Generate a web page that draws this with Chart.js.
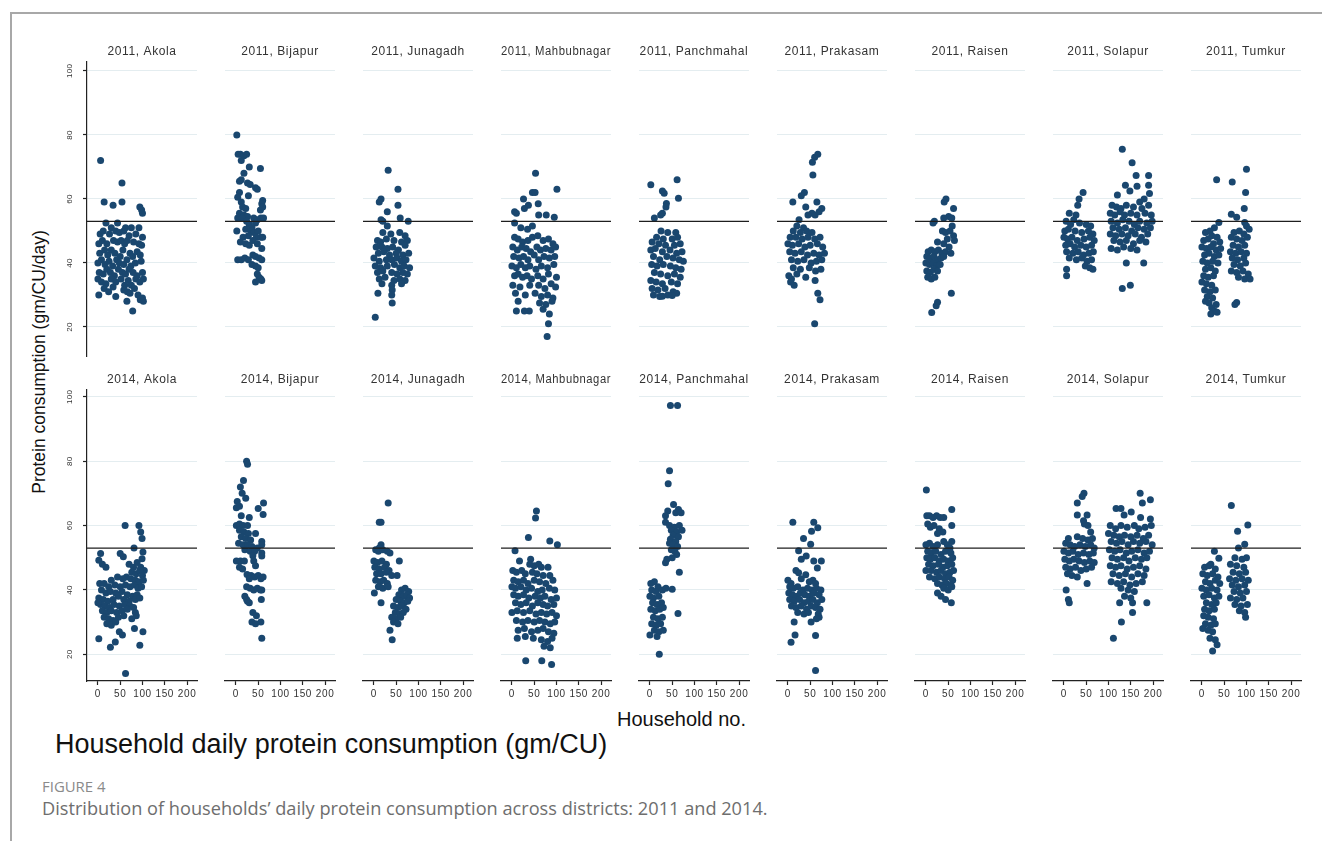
<!DOCTYPE html>
<html>
<head>
<meta charset="utf-8">
<script src="https://cdn.jsdelivr.net/npm/chart.js@4.4.0/dist/chart.umd.min.js"></script>
<style>
	body { margin: 0; background: #fff; width: 1322px; height: 841px; overflow: hidden; position: relative; font-family: 'Liberation Sans', Arial, sans-serif; }
	#frame { position: absolute; left: 10px; top: 12px; right: 0; bottom: 0; border-left: 2px solid #a8a8a8; border-top: 2px solid #a8a8a8; }
	canvas { position: absolute; }
	.txt { position: absolute; white-space: nowrap; line-height: 1; }
	#ytitle { left: 40px; top: 362px; font-size: 17.5px; color: #111; transform: translate(-50%, -50%) rotate(-90deg); }
	#xtitle { left: 617px; top: 709px; font-size: 20px; color: #111; }
	#bigtitle { left: 55px; top: 731px; font-size: 27px; color: #111; }
	#fig { left: 42px; top: 780px; font-size: 14px; color: #8a8a8a; font-family: 'Open Sans', sans-serif; transform-origin: 0 0; }
	#caption { left: 42px; top: 799px; font-size: 18px; color: #6e6e6e; font-family: 'Open Sans', sans-serif; transform-origin: 0 0; }
</style>
</head>
<body>
<div id="frame"></div>
<div id="ytitle" class="txt">Protein consumption (gm/CU/day)</div>
<div id="xtitle" class="txt">Household no.</div>
<div id="bigtitle" class="txt">Household daily protein consumption (gm/CU)</div>
<div id="fig" class="txt">FIGURE 4</div>
<div id="caption" class="txt">Distribution of households’ daily protein consumption across districts: 2011 and 2014.</div>
<script>
const districts = ['Akola', 'Bijapur', 'Junagadh', 'Mahbubnagar', 'Panchmahal', 'Prakasam', 'Raisen', 'Solapur', 'Tumkur'];
const years = [2011, 2014];
const xTicks = [0, 50, 100, 150, 200];
const yTicks = [20, 40, 60, 80, 100];
const refLine = 53;

// [household no., protein gm/CU/day]
const akola2011 = [[6,72],[54,65],[14,59],[34,58],[54,59],[94,57.5],[98,56.5],[100,55.5],
	[18,52.5],[44,52.5],[30,51],[62,51],[75,51],[92,51],
	[5,49],[12,50],[26,49],[40,50],[48,49.5],[58,50],[70,48.5],[85,49],[100,48],
	[2,46],[10,47],[20,46],[35,47],[44,46.5],[52,47],[60,46],[66,47],[80,46.5],[92,46],[98,45.5],
	[4,43],[15,44],[22,42.5],[30,44],[38,43],[50,42],[56,44],[72,43],[78,42],[88,43.5],[95,42.5],
	[0,40],[8,41],[16,39.5],[25,40.5],[33,39],[42,41],[48,40],[58,39.5],[65,41],[74,39],[84,40],[97,40.5],
	[3,37],[12,36.5],[20,38],[28,37],[37,36],[46,38],[55,37],[62,36.5],[70,38],[79,37],[88,36],[100,37],
	[0,35],[8,34],[18,33.5],[30,35],[40,34],[52,35],[60,33],[68,34.5],[75,33],[85,35],[94,34],[102,35],
	[2,30],[14,32],[24,31],[34,32.5],[58,31.5],[66,31],[72,30.5],[82,32],[90,30],
	[40,29.5],[65,28],[95,28.5],[100,29],[102,28],[78,25]];

const bijapur2011 = [[2,80],[5,74],[10,74],[18,73.5],[24,74],[12,72],[30,70],[55,69.5],[18,68],[8,65.5],[12,66],[26,65],
	[32,64.5],[44,63.5],[48,63],[8,62],[4,60.5],[28,61],[60,59.5],[58,58.5],[12,59],[15,57.5],[22,57],[55,56.5],[60,57.5],
	[8,55.5],[18,55],[26,54.5],[4,54],[14,54],[40,54],[48,53.5],[56,54],[62,54],[24,53],[44,52.5],[30,52],[36,51],
	[2,50],[22,50.5],[34,50],[40,49.5],[50,50],[28,48.5],[16,48],[46,48],[56,48],[60,48],[10,46.5],[22,46],[30,45.5],
	[38,47],[48,46],[58,44.5],[4,41],[12,41],[20,41.5],[28,41],[38,42.5],[44,42],[52,41.5],[58,41],[36,39.5],[44,39],
	[50,38.5],[48,36.5],[52,35.5],[56,35],[58,34.5],[44,34]];

const junagadh2011 = [[32,69],[54,63],[16,60],[12,59],[54,58],[30,56],[16,53.5],[20,53],[59,54],[77,53],[30,51.5],
	[20,49.5],[38,49],[58,49.5],[70,48.5],[8,47],[15,46.5],[28,47.5],[45,47],[62,46.5],[75,47],
	[5,45],[18,45],[30,44.5],[42,45],[55,44],[70,45.5],[10,43],[22,43.5],[35,42.5],[50,43],[65,42.5],[78,43],
	[0,41.5],[12,40.5],[28,41],[40,41],[52,41.5],[62,40.5],[72,41],[3,39],[15,38.5],[30,39],[46,39.5],[58,38.5],[68,39],[80,38.5],
	[8,37],[20,37.5],[40,37],[52,36.5],[65,37],[75,36.5],[12,35],[25,35.5],[45,34.5],[58,35],[70,34.5],
	[18,33.5],[40,33],[62,33.5],[9,30.5],[41,31.5],[40,30],[41,27.5],[3,23]];

const mahbubnagar2011 = [[53,68],[46,62],[52,62],[101,63],[26,60],[37,58],[59,58.5],[6,56],[10,55.5],[28,57],[60,55],[77,55],
	[95,54.3],[6,52.5],[35,50.5],[46,51.5],[20,51],
	[6,48],[14,47.5],[24,46.5],[36,47],[46,48],[58,48.5],[70,47],[82,47.5],[92,46],
	[2,45],[12,44],[22,45],[32,44.5],[42,43.5],[56,45],[64,44],[76,44.5],[88,44],[98,45],
	[4,42],[16,41.5],[26,42],[36,41],[50,42.5],[60,41],[72,42],[84,41.5],[96,42],
	[0,39],[10,38.5],[20,39.5],[30,38.5],[40,39],[54,38],[66,39],[80,38.5],[94,39.5],
	[6,36],[14,36.5],[24,35.5],[34,36],[44,35],[58,36],[70,35],[82,36.5],[100,35.5],
	[2,33],[18,32.5],[40,33],[60,33],[74,32],[88,33.5],[98,32.5],
	[8,30.5],[30,30],[52,30.5],[66,29.5],[80,30],[92,29],
	[14,28],[62,27.5],[76,27],[90,28],[10,25],[39,25],[28,25],[70,25.5],[84,24],[82,21],[79,17]];

const panchmahal2011 = [[2,64.4],[61,66],[28,62.5],[32,61.8],[64,60.2],[37,58.6],[36,57.5],[28,55.5],[24,55],[10,54],
	[25,50],[40,49.5],[58,49.5],[15,48],[30,47.5],[50,47.5],[62,48],
	[5,46.5],[20,46],[35,45.5],[55,45.5],[68,46],[2,44],[12,44.5],[28,43.5],[45,44],[60,43],[72,43.5],
	[8,42],[22,41],[38,42],[52,41.5],[66,41],[75,40.5],[4,39.5],[16,39],[30,39.5],[46,39],[58,38.5],[70,38],
	[10,37],[24,36.5],[40,36],[55,36.5],[68,35.5],[2,34.5],[14,34],[28,33.5],[48,34],[62,33.5],
	[5,32],[18,31.5],[34,32],[52,31],[8,30],[22,29.5],[40,30],[60,30.5],[28,29.6],[50,29.8]];

const prakasam2011 = [[67,74],[60,73],[55,71.5],[56,67.5],[37,62],[30,61],[11,59],[40,57.5],[65,59],[76,57],[54,55.5],
	[61,55],[25,53.5],[70,56],[45,55],
	[20,51.5],[35,51],[12,50],[28,49.5],[42,50],[54,49.5],[5,48],[18,48],[32,47.5],[45,48],[60,47.5],[72,48],
	[0,46],[10,45.5],[24,46],[38,45],[50,45.5],[66,46],[78,45],[4,43.5],[16,43],[30,43.5],[44,42.5],[58,43],[70,42.5],[82,43],
	[8,41],[22,40.5],[36,41],[52,40],[64,40.5],[76,41],[12,38.5],[28,38],[48,38.5],[62,37.5],[74,38],
	[2,36],[20,36.5],[40,35.5],[6,34],[14,33],[8,35],[61,34.5],[67,30.5],[72,28.5],[60,21]];

const raisen2011 = [[45,60],[41,59],[62,57],[51,54.5],[40,54],[58,54],[19,53],[16,52.5],[59,51.5],[37,50],[44,49.5],[54,50],
	[62,48.5],[64,47],[48,47.5],[26,46.5],[40,46],[52,45],
	[5,43.5],[12,44],[20,43.5],[28,44],[36,43],[44,43.5],[56,43],
	[2,42],[10,41.5],[18,42],[26,41],[34,41.5],[40,42],[0,40],[8,39.5],[16,40],[24,39],[32,39.5],
	[2,37.5],[10,37],[18,38],[26,37.5],[4,35.5],[12,35],[20,35.5],
	[57,30.5],[26,27.7],[23,26.6],[13,24.5]];

const solapur2011 = [[43,62],[34,60],[31,58],[12,55.5],[27,55],[22,53.5],[5,53],[15,52],[35,52.5],[50,52],[60,51.5],
	[2,50],[10,50.5],[25,50],[40,49.5],[55,50],[65,49],[0,48],[8,47.5],[18,48],[30,47],[45,47.5],[58,48],[68,47],
	[4,45.5],[14,46],[24,45],[38,45.5],[50,45],[62,45.5],[6,43.5],[20,43],[32,43.5],[44,42.5],[56,43],[66,43.5],
	[12,41.5],[28,41],[40,41.5],[52,40.5],[62,41],[48,39],[58,38.5],[65,38],[6,38],[6,36],
	[131,75.5],[153,71.3],[162,67.3],[190,67.3],[138,64.3],[164,64],[190,64.3],[192,61.7],[120,61.2],[148,62.5],[170,59],[180,60],
	[108,58],[118,57.5],[128,57],[140,58],[156,57.5],[175,57],[190,58],
	[104,55.5],[114,55],[126,56],[136,55],[150,55.5],[164,55],[182,55.5],[196,55],
	[106,53],[120,52.5],[132,53.5],[146,53],[158,52],[170,53],[186,52.5],[198,53],
	[110,51],[124,50.5],[138,51],[152,50],[166,51],[180,50.5],[194,51],
	[104,49],[116,48.5],[130,49],[144,48.5],[160,49],[174,48],[188,49],
	[112,47],[126,46.5],[140,47],[156,46],[170,47],[184,46.5],
	[106,44.5],[120,44],[134,45],[150,44.5],[164,44],[140,40],[179,40],[131,32],[149,33]];

const tumkur2011 = [[38,52.6],[28,51],[18,50],[8,49.5],[22,48.5],[34,48],[4,47],[14,47.5],[26,46],[40,46.5],
	[0,45],[10,44.5],[20,45],[32,44],[42,44.5],[6,42.5],[16,43],[28,42],[38,42.5],
	[2,40.5],[12,40],[24,40.5],[36,40],[8,38],[20,38.5],[30,37.5],[4,36],[14,35.5],[26,36],
	[0,34],[10,33.5],[22,33],[6,31.5],[18,31],[30,31.5],[12,29.5],[24,29],[16,27.5],[32,27],[22,26],[28,25],[20,24],[34,24.6],[8,28],
	[33,66],[68,65.3],[100,69.3],[98,62],[95,57],[66,55.2],[78,54.3],[96,52.6],[100,51.5],[106,50.5],
	[72,49.5],[84,50],[94,49],[66,48],[78,47.5],[90,47],[102,48],
	[70,45.5],[82,45],[96,45.5],[64,43.5],[76,43],[88,43.5],[100,43],
	[68,41.5],[80,41],[94,41.5],[72,39.5],[86,39],[98,40],
	[66,37.5],[78,37],[92,37.5],[104,36.5],[82,35.5],[96,35],[108,35],[78,27.6],[74,27]];

const akola2014 = [[61,60],[92,60],[96,58],[99,56],[81,53],[6,51.3],[2,49.2],[50,51.3],[57,50.3],[101,51.8],[99,49.7],[18,47],[10,48],
	[70,48],[80,47],[88,48.5],[96,47],[104,46],[76,45.5],[86,45],[94,46],[100,44.5],
	[64,44],[74,43.5],[84,43],[92,42.5],[102,43],[30,43],[44,44],[56,43.5],
	[4,42],[14,42],[24,41],[38,41.5],[50,41],[62,41.5],[72,41],[82,41.5],[90,40.5],[98,41],
	[8,40],[18,39],[28,39.5],[40,39],[54,39.5],[66,38.5],[78,38],[88,38.5],
	[2,37.5],[12,37],[22,36.5],[34,37],[46,38],[58,37],[70,36.5],[84,37],[94,37.5],
	[6,35.5],[16,35],[26,34.5],[36,35.5],[48,35],[60,35.5],[72,35],[80,34.5],
	[0,36],[10,33.5],[20,33],[30,33.5],[42,33],[54,33.5],[66,34],[84,33],
	[14,31.5],[24,31],[34,30.5],[46,31.5],[58,32],[76,31],[86,32],
	[20,29.5],[30,29],[40,30],[82,28],[48,27],[101,27],[55,26],[2,24.8],[28,22.2],[39,23.8],[94,22.8],[62,14]];

const bijapur2014 = [[24,80],[26,79],[17,74],[10,72],[14,70],[22,68.5],[3,67.5],[1,65.5],[8,66],[62,67],[50,65.3],[61,63.4],[12,63],[30,62.5],
	[1,60],[8,60.5],[16,60],[26,60],[8,58.5],[18,58],[28,57.5],[44,57.5],[12,56.5],[22,56],[33,55.5],[58,55],[58,54],
	[6,54.5],[16,54],[26,54],[36,53.5],[48,53],[20,52.5],[32,52],[42,52],[58,51.5],[58,50.5],[38,50.6],
	[1,49],[10,49],[19,49],[40,49],[8,47],[15,46.5],[44,47.5],
	[25,44.8],[34,44.5],[42,44],[50,44.5],[56,43.5],[61,44],[30,43.5],
	[24,41],[32,40.5],[40,40],[48,40.5],[55,40],[58,40],
	[20,38],[26,36.5],[30,36],[57,37],[24,37],[38,33],[46,32],[36,30],[44,29.5],[56,30],[58,25]];

const junagadh2014 = [[32,67],[12,61],[16,61],[16,54],[12,53],[4,52.5],[10,52],[20,52.5],[30,52],[36,51.5],[57,49],
	[0,49],[8,48.5],[18,49],[28,48],[2,47],[12,46.5],[24,47],[34,46],[6,45],[16,45],[28,45.5],[52,44.5],[40,44.5],
	[4,43],[14,42.5],[22,43],[30,42],[10,41],[20,40.5],[32,41],[1,39],[16,36],
	[62,40],[70,40.5],[78,39.5],[56,38.5],[66,38],[74,38.5],[80,37.5],[50,37],[60,36.5],[68,36],[76,36.5],
	[44,35],[54,34.5],[62,35],[72,34],[48,33],[58,32.5],[66,33],[40,31.5],[50,31],[60,31.5],[44,30],[54,29.5],[36,27.5],[41,24.5]];

const mahbubnagar2014 = [[55,64.5],[53,62.3],[37,56.3],[85,55.2],[102,54],[7,52.2],[17,49],[42,49.5],
	[40,48],[50,47.5],[60,48],[66,47],[81,47],[85,44.5],
	[2,46],[10,45.5],[22,46],[30,45],[46,45.5],[56,45],[70,44.5],
	[4,43],[14,42.5],[26,43],[36,42],[50,43],[62,42.5],[76,42],[92,43],
	[0,41],[8,40.5],[20,41],[32,40],[44,40.5],[58,39.5],[68,40],[84,40.5],[96,40],
	[4,38.5],[14,38],[26,38.5],[38,37.5],[52,38],[64,37.5],[74,38],[88,37],[100,37.5],
	[8,36],[20,35.5],[32,36],[46,35],[58,36],[70,35.5],[80,35],[94,35.5],
	[0,33],[12,33.5],[26,33],[40,33.5],[54,32.5],[66,33],[78,32.5],[90,33],[100,32],
	[10,30.5],[24,30],[36,30.5],[50,30],[62,30.5],[74,30],[86,29.5],[96,30],
	[14,27.5],[28,28],[44,27],[58,27.5],[70,28],[82,27],[94,26.5],
	[12,25],[30,25.5],[48,25],[66,24.5],[80,24],[90,25],[72,22.5],[86,22],[31,18],[67,18],[89,16.8]];

const panchmahal2014 = [[46,97.3],[62,97.3],[44,77],[41,73],[53,66.5],[64,65],[40,64.5],[58,64],[70,64],
	[35,63],[35,61],[44,60],[55,59.5],[66,60],[48,58.5],[60,58],[72,58.5],[52,57],[64,56.5],[46,55.7],[58,55],
	[44,54.5],[52,54],[62,53.5],[48,52.5],[56,52],[60,51],[50,50],[38,49.5],[35,48.4],[66,45.5],
	[2,42],[10,42.5],[18,41],[4,40],[14,39.5],[28,40],[36,40.5],[50,40.2],
	[0,38],[8,37.5],[20,38],[6,36],[16,35.5],[26,36],[2,34],[12,33.5],[22,34],[30,34.5],[63,32.7],
	[8,31.5],[18,31],[28,31.5],[4,29.5],[14,29],[24,29.5],[10,27.5],[20,27],[30,27.5],[0,26],[16,25.5],[21,20]];

const prakasam2014 = [[11,61],[58,61],[67,59.3],[53,58.2],[35,56],[51,54.2],[24,52.2],[41,50.5],[58,49],[75,49],[30,49.5],
	[18,46],[24,45.3],[66,46.8],[40,44.7],[56,43],[0,43],[7,42],[30,43.5],[48,42.5],[62,42],
	[4,41],[12,40.5],[22,41],[34,40],[44,40.5],[54,40],[64,40.5],[74,40],
	[2,39],[10,38.5],[20,38],[28,39],[38,38.5],[48,38],[58,39],[70,38.5],
	[4,37],[14,36.5],[26,37],[36,36],[46,36.5],[56,37],[66,36],[76,37],
	[8,35],[18,34.5],[30,35],[42,34],[52,35],[62,34.5],[72,34],
	[22,33],[36,32.5],[46,33],[68,32.5],[70,31.5],[64,31],[52,30],[14,30],[16,26],[7,23.7],[62,25.8],[62,15]];

const raisen2014 = [[1,71],[2,63],[8,63],[16,62.5],[24,63],[32,62.5],[40,62.5],[58,65],[58,60],[4,60.5],[10,59.5],[18,60],[30,59],[38,58],[26,57.5],
	[40,55],[58,55],[0,54],[8,54.5],[16,53.5],[26,54],[48,54],[54,53],
	[4,52],[12,51.5],[22,52],[34,51],[44,52],[56,51.5],
	[2,50],[10,49.5],[20,50],[30,49],[40,49.5],[50,49],[60,50],
	[6,48],[16,47.5],[28,48],[38,47],[48,47.5],[58,48],
	[0,46],[12,46],[24,45.5],[34,46],[44,45],[54,45.5],[62,46],
	[8,44],[20,43.5],[30,44],[42,43.5],[52,44],[60,43],
	[26,42],[36,41.5],[46,42],[56,41.5],[40,40.5],[50,40],[58,41],[26,39],[34,38],[44,37],[57,36]];

const solapur2014 = [[45,70],[41,69],[30,67],[30,63.3],[52,63.3],[44,61.5],[54,60],[46,60.5],[60,58],
	[10,56],[30,56.5],[42,56],[54,55.5],[64,56],
	[4,54.5],[14,54],[24,53.5],[36,54],[48,53.5],[60,54],[68,53],
	[0,52],[10,51.5],[20,52],[32,51],[44,51.5],[56,51],[66,51.5],
	[2,49.5],[12,49],[22,49.5],[34,49],[46,48.5],[58,49],[68,48.5],
	[4,47],[14,46.5],[26,47],[38,46],[50,46.5],[62,47],[8,45],[18,44.5],[30,44],[52,42],[5,40],[10,37],[12,36],
	[171,70],[194,68],[176,67],[117,65.3],[128,65.3],[151,64.2],[135,63.3],[194,62],[172,62.5],
	[104,60],[116,59],[128,60],[142,59.5],[158,60],[168,59],[182,59.5],[196,60],
	[100,57.5],[112,57],[124,56.5],[136,57],[150,56.5],[164,57],[178,56],[190,57],
	[106,55],[118,54.5],[130,55],[144,54],[156,55],[170,54.5],[184,55],[198,54],
	[102,52.5],[114,52],[126,52.5],[140,51.5],[152,52],[166,52.5],[180,51.5],[192,52],
	[108,50],[120,49.5],[134,50],[146,49],[160,50],[174,49.5],[186,50],
	[104,47.5],[116,47],[128,47.5],[142,46.5],[156,47],[170,47.5],[184,46.5],
	[110,45],[124,44.5],[138,45],[152,44],[166,45],[180,44.5],
	[106,42.5],[120,42],[134,42.5],[148,41.5],[162,42],[176,42.5],
	[128,40.5],[144,40],[158,39.5],[125,36],[154,36],[186,36],[154,33],[129,30],[111,25],[136,38],[150,37.5]];

const tumkur2014 = [[28,52],[38,49.8],[20,48],[6,47],[16,47.5],[30,46.5],[2,45],[12,44.5],[24,45],[36,44],[8,42.5],[18,42],[30,43],[40,42],
	[0,40.5],[10,40],[22,40.5],[34,40],[4,38],[16,38.5],[28,37.5],[38,38],[10,36],[22,35.5],[32,36],[6,34],[16,33.5],[28,34],
	[4,32],[14,31.5],[26,31],[8,29.5],[20,29],[30,29.5],[2,28],[14,27.5],[24,27],[18,25],[30,24.5],[34,23],[24,21],
	[66,66.2],[103,60.2],[80,58.2],[96,54.2],[82,53],[74,50],[90,49.5],[100,50],[64,48],[78,47.5],[94,47],
	[70,45.5],[84,45],[98,45.5],[62,43.5],[76,43],[90,43.5],[104,43],[68,41.5],[82,41],[96,41.5],
	[72,39.5],[86,39],[100,39.5],[64,37.5],[78,37],[92,37.5],[74,35.5],[88,35],[102,35.5],[84,33.5],[96,33],[98,31.5]];

const rows = [
	[akola2011, bijapur2011, junagadh2011, mahbubnagar2011, panchmahal2011, prakasam2011, raisen2011, solapur2011, tumkur2011],
	[akola2014, bijapur2014, junagadh2014, mahbubnagar2014, panchmahal2014, prakasam2014, raisen2014, solapur2014, tumkur2014],
];

const FONT = "'Liberation Sans', Arial, sans-serif";
const X_MIN = -24.5, X_MAX = 222.3;
const Y_RANGE = [[10.9, 102.8], [11.7, 102.1]];
const AXIS_W = 50, AXIS_H = 30, TITLE_H = 20;

// Stata-like wide text spacing
const spacingPlugin = {
	id: 'spacing',
	beforeDraw(chart) { chart.ctx.letterSpacing = '0.6px'; },
};

// vertical y tick labels, first column only
const yLabelPlugin = {
	id: 'yLabels',
	afterDraw(chart, args, opts) {
		if (!opts.show) return;
		const s = chart.scales.y;
		const ctx = chart.ctx;
		ctx.save();
		ctx.letterSpacing = '0.3px';
		ctx.font = '8px ' + FONT;
		ctx.fillStyle = '#333';
		ctx.textAlign = 'center';
		ctx.textBaseline = 'middle';
		yTicks.forEach((v) => {
			ctx.save();
			ctx.translate(s.right - 17.5, s.getPixelForValue(v));
			ctx.rotate(-Math.PI / 2);
			ctx.fillText(String(v), 0, 0);
			ctx.restore();
		});
		ctx.restore();
	},
};

rows.forEach((panels, row) => {
	panels.forEach((points, col) => {
		const firstCol = col === 0;
		const lastRow = row === 1;
		const plotTop = row === 0 ? 62 : 390;
		const plotBottom = row === 0 ? 356 : 681;

		const cv = document.createElement('canvas');
		cv.width = AXIS_W + 114;
		cv.height = plotBottom - plotTop + TITLE_H + AXIS_H;
		cv.style.left = 87 + 138 * col - AXIS_W + 'px';
		cv.style.top = plotTop - TITLE_H + 'px';
		document.body.appendChild(cv);

		new Chart(cv, {
			type: 'scatter',
			data: {
				datasets: [
					{
						type: 'line',
						data: [{ x: X_MIN, y: refLine }, { x: X_MAX, y: refLine }],
						borderColor: '#1e1e1e',
						borderWidth: 1.3,
						pointRadius: 0,
						order: 0,
					},
					{
						data: points.map((p) => ({ x: p[0], y: p[1] })),
						backgroundColor: '#1a476f',
						borderWidth: 0,
						pointRadius: 3.5,
						order: 1,
					},
				],
			},
			options: {
				responsive: false,
				animation: false,
				events: [],
				layout: { padding: 0 },
				plugins: {
					legend: { display: false },
					tooltip: { enabled: false },
					title: {
						display: true,
						text: years[row] + ', ' + districts[col],
						fullSize: false,
						color: '#333',
						font: { size: 12, weight: 'normal', family: FONT, lineHeight: '12px' },
						padding: { top: 4, bottom: 4 },
					},
					yLabels: { show: firstCol },
				},
				scales: {
					x: {
						type: 'linear',
						min: X_MIN,
						max: X_MAX,
						afterFit: (s) => { s.height = AXIS_H; },
						afterBuildTicks: (s) => { s.ticks = xTicks.map((v) => ({ value: v })); },
						border: { display: lastRow, color: '#222', width: 1.2 },
						grid: { display: lastRow, drawOnChartArea: false, drawTicks: true, tickLength: 4, tickColor: '#222', tickWidth: 1.2 },
						ticks: { display: lastRow, autoSkip: false, maxRotation: 0, minRotation: 0, padding: 3, color: '#333', font: { size: 10, family: FONT } },
					},
					y: {
						type: 'linear',
						min: Y_RANGE[row][0],
						max: Y_RANGE[row][1],
						afterFit: (s) => { s.width = AXIS_W; },
						afterBuildTicks: (s) => { s.ticks = yTicks.map((v) => ({ value: v })); },
						border: { display: firstCol, color: '#222', width: 1.2 },
						grid: { color: '#e4edf0', lineWidth: 1, drawTicks: firstCol, tickLength: 4, tickColor: '#222', tickWidth: 1.2 },
						ticks: { display: false },
					},
				},
			},
			plugins: [spacingPlugin, yLabelPlugin],
		});
	});
});

// squeeze caption lines to the reference width
function fitWidth(id, width) {
	const el = document.getElementById(id);
	el.style.transform = 'scaleX(' + width / el.offsetWidth + ')';
}
fitWidth('fig', 64);
fitWidth('caption', 726);
</script>
</body>
</html>
